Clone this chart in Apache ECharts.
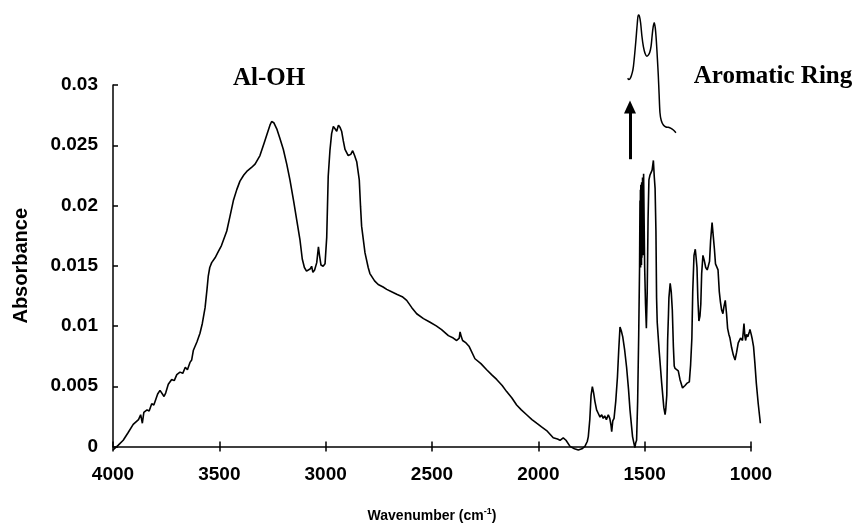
<!DOCTYPE html>
<html>
<head>
<meta charset="utf-8">
<script src="https://cdn.jsdelivr.net/npm/echarts@6/dist/echarts.min.js"></script>
<style>html,body{margin:0;padding:0;background:#fff}#c{width:856px;height:528px}</style>
</head>
<body>
<div id="c"></div>
<script>
var wavenumbers = [4000,3975,3952,3930,3905,3880,3870,3862,3855,3840,3830,3818,3808,3790,3779,3770,3760,3752,3740,3724,3712,3700,3685,3672,3660,3650,3638,3630,3622,3605,3591,3580,3567,3558,3552,3545,3536,3520,3505,3490,3465,3450,3434,3418,3403,3385,3371,3350,3332,3309,3290,3277,3262,3254,3244,3230,3215,3199,3183,3168,3150,3136,3121,3110,3100,3090,3082,3072,3066,3060,3052,3042,3034,3029,3022,3012,3003,2995,2988,2980,2972,2964,2956,2948,2940,2932,2925,2917,2909,2894,2882,2873,2864,2854,2842,2836,2831,2815,2800,2792,2770,2753,2730,2713,2690,2666,2640,2619,2595,2572,2540,2509,2480,2455,2423,2400,2384,2372,2368,2362,2356,2350,2340,2325,2298,2270,2243,2220,2196,2170,2149,2125,2102,2080,2055,2030,2008,1985,1961,1945,1930,1910,1898,1883,1870,1851,1830,1812,1795,1781,1770,1765,1758,1752,1746,1740,1734,1726,1718,1710,1702,1695,1688,1680,1671,1664,1658,1655,1650,1644,1636,1628,1622,1616,1610,1603,1594,1585,1576,1569,1562,1557,1550,1546,1542,1538,1533,1528,1524,1522,1521,1520,1519,1518,1517,1516,1515,1514,1513,1512,1511,1510,1509,1507,1506,1505,1503,1500,1496,1492,1488,1484,1480,1475,1470,1465,1459,1455,1451,1447,1444,1441,1432,1420,1410,1404,1401,1396,1392,1388,1386,1380,1375,1370,1365,1361,1357,1350,1342,1334,1322,1310,1300,1290,1284,1278,1274,1268,1262,1258,1254,1250,1245,1240,1236,1232,1226,1220,1213,1206,1201,1195,1190,1183,1177,1172,1167,1162,1155,1149,1144,1138,1132,1127,1121,1115,1110,1104,1099,1091,1083,1075,1068,1060,1049,1040,1033,1029,1025,1021,1015,1008,1005,999,994,988,982,975,966,956,947];
var absorbance = [0,0.0004,0.0008,0.0014,0.0021,0.0025,0.0029,0.0022,0.0031,0.0033,0.0032,0.0038,0.0037,0.0046,0.0049,0.0050,0.0044,0.0047,0.0054,0.0058,0.0057,0.0062,0.0064,0.0063,0.0068,0.0066,0.0072,0.0074,0.0082,0.0089,0.0096,0.0104,0.0117,0.0132,0.0143,0.0150,0.0154,0.0158,0.0163,0.0168,0.0180,0.0192,0.0205,0.0214,0.0221,0.0226,0.0229,0.0232,0.0235,0.0242,0.0252,0.0259,0.0267,0.0270,0.0269,0.0264,0.0256,0.0247,0.0235,0.0222,0.0204,0.0189,0.0173,0.0157,0.0150,0.0147,0.0146,0.0149,0.0151,0.0146,0.0148,0.0154,0.0167,0.0160,0.0152,0.0151,0.0153,0.0175,0.0225,0.0246,0.0260,0.0266,0.0264,0.0262,0.0267,0.0265,0.0262,0.0254,0.0247,0.0242,0.0243,0.0246,0.0242,0.0237,0.0222,0.0200,0.0184,0.0162,0.0150,0.0145,0.0139,0.0136,0.0134,0.0132,0.0130,0.0128,0.0126,0.0123,0.0117,0.0112,0.0108,0.0105,0.0102,0.0099,0.0094,0.0092,0.0090,0.0092,0.0097,0.0093,0.0090,0.0091,0.0088,0.0085,0.0075,0.0071,0.0066,0.0062,0.0058,0.0053,0.0048,0.0043,0.0037,0.0033,0.0029,0.0025,0.0022,0.0019,0.0016,0.0013,0.0010,0.0009,0.0008,0.0010,0.0008,0.0003,0.0001,0.0000,0.0001,0.0003,0.0007,0.0011,0.0025,0.0045,0.0052,0.0047,0.0040,0.0033,0.0030,0.0027,0.0029,0.0026,0.0028,0.0025,0.0029,0.0026,0.0020,0.0015,0.0024,0.0026,0.0040,0.0060,0.0082,0.0101,0.0098,0.0093,0.0082,0.0068,0.0050,0.0033,0.0020,0.0011,0.0005,0.0002,0.0006,0.0008,0.0040,0.0095,0.0150,0.0205,0.0160,0.0214,0.0150,0.0218,0.0165,0.0212,0.0152,0.0220,0.0158,0.0215,0.0160,0.0224,0.0165,0.0205,0.0160,0.0227,0.0195,0.0150,0.0120,0.0100,0.0130,0.0190,0.0222,0.0226,0.0228,0.0230,0.0238,0.0225,0.0215,0.0180,0.0125,0.0105,0.0082,0.0055,0.0035,0.0029,0.0033,0.0045,0.0090,0.0112,0.0125,0.0137,0.0130,0.0115,0.0085,0.0069,0.0067,0.0068,0.0065,0.0058,0.0051,0.0053,0.0055,0.0056,0.0070,0.0092,0.0130,0.0160,0.0165,0.0158,0.0150,0.0125,0.0106,0.0110,0.0120,0.0145,0.0160,0.0156,0.0150,0.0148,0.0151,0.0155,0.0172,0.0187,0.0175,0.0165,0.0153,0.0152,0.0148,0.0130,0.0122,0.0115,0.0112,0.0118,0.0123,0.0112,0.0100,0.0095,0.0092,0.0084,0.0078,0.0074,0.0080,0.0088,0.0092,0.0090,0.0104,0.0094,0.0090,0.0095,0.0093,0.0097,0.0099,0.0095,0.0091,0.0085,0.0072,0.0055,0.0038,0.0022];

// Inset: expanded view of the aromatic ring doublet (relative scale)
var insetWavenumbers = [1580,1574,1566,1558,1553,1547,1541,1535,1530,1525,1519,1513,1506,1498,1490,1482,1476,1470,1465,1460,1455,1450,1445,1440,1436,1432,1428,1422,1412,1400,1389,1376,1365,1353];
var insetRelative = [0.475,0.465,0.480,0.52,0.565,0.66,0.77,0.89,0.962,0.955,0.90,0.80,0.718,0.665,0.645,0.655,0.675,0.72,0.80,0.87,0.902,0.86,0.76,0.62,0.50,0.35,0.21,0.15,0.115,0.10,0.098,0.09,0.077,0.056];

// Arrow pointing from the main peak to the inset
var arrowWavenumber = 1569;
var arrowFrom = 0.0239;
var arrowTo = 0.0282;

var xTicks = {min: 1000, max: 4000, interval: 500};
var yTicks = {min: 0, max: 0.03, interval: 0.005};
var dataRangeMin = 940; // spectrum runs slightly past the last tick

var annotations = [
  {text: 'Al-OH', x: 269, y: 79},
  {text: 'Aromatic Ring', x: 773, y: 77}
];

function zip(a, b) { return a.map(function (v, i) { return [v, b[i]]; }); }

var W = 856, H = 528;
var gL = 113, gR = 105, gT = 85, gB = 78;
var plotW = W - gL - gR;
// extend the data grid so that the 4000..1000 part coincides with the visible axis
var extR = gR - plotW * (xTicks.min - dataRangeMin) / (xTicks.max - xTicks.min);

var chart = echarts.init(document.getElementById('c'), null, {renderer: 'canvas'});
var axisFont = {fontFamily: 'Liberation Sans, Arial, sans-serif', fontWeight: 'bold', fontSize: 19, color: '#000',
  formatter: function (v) { return String(v); }};

chart.setOption({
  animation: false,
  backgroundColor: '#fff',
  grid: [
    {left: gL, right: gR, top: gT, bottom: gB},
    {left: gL, right: extR, top: gT, bottom: gB},
    {left: gL, right: extR, top: 10, height: 130}
  ],
  xAxis: [
    {
      gridIndex: 0, type: 'value', inverse: true,
      min: xTicks.min, max: xTicks.max, interval: xTicks.interval,
      name: 'Wavenumber (cm{sup|-1})', nameLocation: 'middle', nameGap: 61,
      nameTextStyle: {fontFamily: 'Liberation Sans, Arial, sans-serif', fontWeight: 'bold', fontSize: 14, color: '#000',
        rich: {sup: {fontSize: 9, fontWeight: 'bold', verticalAlign: 'top', padding: [0, 0, 8, 0], fontFamily: 'Liberation Sans, Arial, sans-serif'}}},
      axisLine: {lineStyle: {color: '#000', width: 1.5}},
      axisTick: {length: 5, lineStyle: {color: '#000', width: 1.5}},
      axisLabel: Object.assign({margin: 19}, axisFont),
      splitLine: {show: false}
    },
    {
      gridIndex: 0, type: 'value', inverse: true, position: 'bottom',
      min: xTicks.min, max: xTicks.max, interval: xTicks.interval,
      axisLine: {show: false},
      axisTick: {inside: true, length: 5, lineStyle: {color: '#000', width: 1.5}},
      axisLabel: {show: false},
      splitLine: {show: false}
    },
    {
      gridIndex: 1, type: 'value', inverse: true, show: false,
      min: dataRangeMin, max: xTicks.max
    },
    {
      gridIndex: 2, type: 'value', inverse: true, show: false,
      min: dataRangeMin, max: xTicks.max
    }
  ],
  yAxis: [
    {
      gridIndex: 0, type: 'value',
      min: yTicks.min, max: yTicks.max, interval: yTicks.interval,
      name: 'Absorbance', nameLocation: 'middle', nameGap: 82, nameRotate: 90,
      nameTextStyle: {fontFamily: 'Liberation Sans, Arial, sans-serif', fontWeight: 'bold', fontSize: 20, color: '#000'},
      axisLine: {show: true, lineStyle: {color: '#000', width: 1.5}},
      axisTick: {show: true, inside: true, length: 5, lineStyle: {color: '#000', width: 1.5}},
      axisLabel: Object.assign({margin: 15}, axisFont),
      splitLine: {show: false}
    },
    {
      gridIndex: 1, type: 'value', show: false, min: yTicks.min, max: yTicks.max
    },
    {
      gridIndex: 2, type: 'value', show: false, min: 0, max: 1
    }
  ],
  graphic: annotations.map(function (a) {
    return {
      type: 'text', x: a.x, y: a.y,
      style: {text: a.text, fill: '#000', font: 'bold 25px "Liberation Serif", "Times New Roman", serif',
        align: 'center', verticalAlign: 'middle', textAlign: 'center', textVerticalAlign: 'middle'}
    };
  }),
  series: [
    {
      type: 'line', xAxisIndex: 2, yAxisIndex: 1,
      data: zip(wavenumbers, absorbance),
      showSymbol: false, clip: false,
      lineStyle: {color: '#000', width: 1.6},
      markLine: {
        silent: true,
        symbol: ['none', 'triangle'], symbolSize: [12, 13],
        label: {show: false},
        lineStyle: {color: '#000', width: 3, type: 'solid'},
        data: [[{coord: [arrowWavenumber, arrowFrom]}, {coord: [arrowWavenumber, arrowTo]}]]
      }
    },
    {
      type: 'line', xAxisIndex: 3, yAxisIndex: 2,
      data: zip(insetWavenumbers, insetRelative),
      showSymbol: false, clip: false, smooth: 0.3,
      lineStyle: {color: '#000', width: 1.5}
    }
  ]
});
</script>
</body>
</html>
